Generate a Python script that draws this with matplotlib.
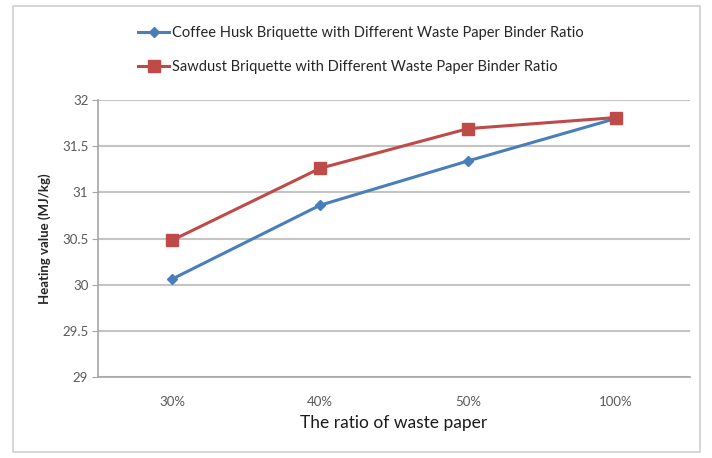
import matplotlib.pyplot as plt
from matplotlib.patches import Rectangle

categories = ["30%", "40%", "50%", "100%"]
coffee_husk = [30.06, 30.86, 31.34, 31.80]
sawdust = [30.48, 31.26, 31.69, 31.81]
series_labels = [
    "Coffee Husk Briquette with Different Waste Paper Binder Ratio",
    "Sawdust Briquette with Different Waste Paper Binder Ratio",
]
yticks = [29, 29.5, 30, 30.5, 31, 31.5, 32]

plt.rcParams['font.family'] = ['Lato', 'DejaVu Sans']

W, H = 712, 458
fig = plt.figure(figsize=(W / 100, H / 100), dpi=100)
fig.patch.set_facecolor('white')

# outer chart frame
fig.patches.append(Rectangle((13 / W, 1 - 452 / H), (700 - 13) / W, (452 - 6) / H,
                             transform=fig.transFigure, fill=False,
                             edgecolor='#d0d0d0', linewidth=1.2))

ax = fig.add_axes([98 / W, 1 - 377 / H, (690 - 98) / W, (377 - 100) / H])
x = list(range(len(categories)))

l1, = ax.plot(x, coffee_husk, color='#4a7ebb', linewidth=2.2, marker='D',
              markersize=5.5, markerfacecolor='#4a7ebb', markeredgecolor='#4a7ebb',
              label=series_labels[0])
l2, = ax.plot(x, sawdust, color='#be4b48', linewidth=2.2, marker='s',
              markersize=8.5, markerfacecolor='#be4b48', markeredgecolor='#be4b48',
              label=series_labels[1])

ax.set_xlim(-0.5, len(categories) - 0.5)
ax.set_ylim(29, 32)
ax.set_yticks(yticks)
ax.set_yticklabels([f"{v:g}" for v in yticks])
ax.set_xticks(x)
ax.set_xticklabels(categories)

ax.grid(axis='y', color='#c4c4c4', linewidth=1.5)
ax.set_axisbelow(True)
for s in ['top', 'right']:
    ax.spines[s].set_visible(False)
for s in ['left', 'bottom']:
    ax.spines[s].set_color('#a6a6a6')
    ax.spines[s].set_linewidth(1.2)

ax.tick_params(axis='y', length=4, color='#a6a6a6', labelsize=9.5,
               labelcolor='#595959', pad=3)
ax.tick_params(axis='x', length=0, labelsize=9.5, labelcolor='#595959', pad=14)

ax.set_ylabel("Heating value (MJ/kg)", fontsize=9.5, fontweight='bold',
              color='#262626', labelpad=8)
ax.set_xlabel("The ratio of waste paper", fontsize=12.5, color='#1a1a1a',
              labelpad=5)

fig.legend(handles=[l1, l2], loc='center', bbox_to_anchor=(361 / W, 1 - 50 / H),
           frameon=False, fontsize=10.5, handlelength=2.1, labelspacing=1.4,
           handletextpad=0.2, labelcolor='#262626')

fig.savefig('out.png', dpi=100, facecolor='white')
